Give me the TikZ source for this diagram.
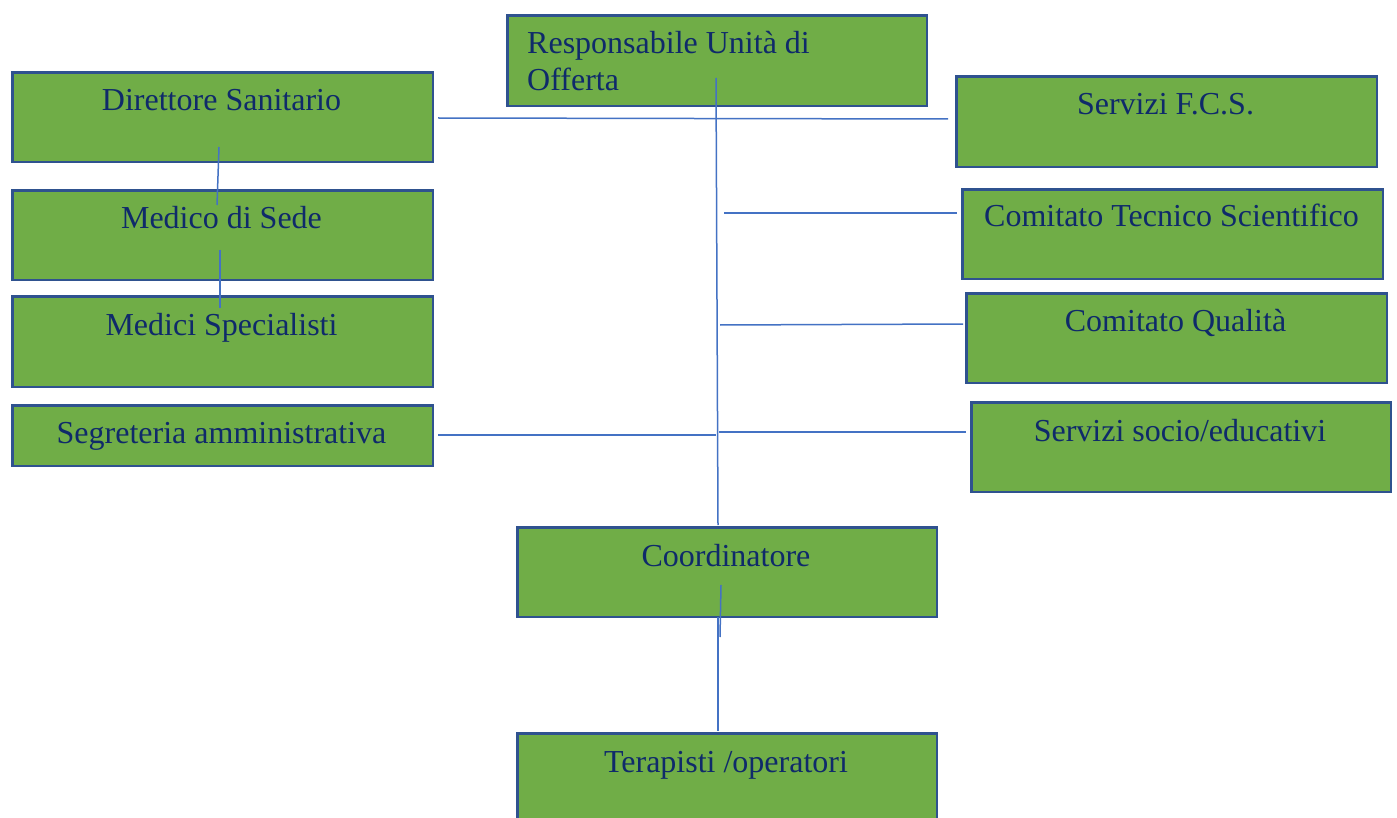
\documentclass[tikz,border=0pt]{standalone}
\usepackage{fontspec}
\setmainfont{Liberation Serif}
\definecolor{boxgreen}{HTML}{70AD47}
\definecolor{boxborder}{HTML}{2F528F}
\definecolor{txtblue}{HTML}{0F2A6A}
\definecolor{linkblue}{HTML}{4472C4}
\begin{document}
\begin{tikzpicture}[x=1pt,y=1pt,
  box/.style={draw=boxborder, line width=2.4pt, fill=boxgreen, inner sep=0pt, anchor=north west},
  lbl/.style={text=txtblue, inner sep=0pt, anchor=base, font=\fontsize{32}{37}\selectfont},
  link/.style={draw=linkblue, line width=1.5pt}]
\clip (0,0) rectangle (1397,-818);
\fill[white] (0,0) rectangle (1397,-818);
% boxes
\node[box, minimum width=419.6, minimum height=90.6] (resp) at (506.2,-14.2) {};
\node[box, minimum width=420.6, minimum height=89.6] (dir) at (11.2,-71.2) {};
\node[box, minimum width=420.6, minimum height=89.6] (med) at (11.2,-189.2) {};
\node[box, minimum width=420.6, minimum height=90.6] (spec) at (11.2,-295.2) {};
\node[box, minimum width=420.6, minimum height=60.6] (segr) at (11.2,-404.2) {};
\node[box, minimum width=420.6, minimum height=90.6] (fcs) at (955.2,-75.2) {};
\node[box, minimum width=420.6, minimum height=89.6] (cts) at (961.2,-188.2) {};
\node[box, minimum width=420.6, minimum height=89.6] (cq) at (965.2,-292.2) {};
\node[box, minimum width=419.6, minimum height=89.6] (sse) at (970.2,-401.2) {};
\node[box, minimum width=419.6, minimum height=89.6] (coord) at (516.2,-526.2) {};
\node[box, minimum width=419.6, minimum height=110] (ter) at (516.2,-732.2) {};
% texts
\node[lbl, anchor=base west] (respT1) at (527,-54) {Responsabile Unità di};
\node[lbl, anchor=base west] (respT2) at (527,-91) {Offerta};
\node[lbl] (dirT) at (221.5,-111) {Direttore Sanitario};
\node[lbl] (medT) at (221.5,-229) {Medico di Sede};
\node[lbl] (specT) at (221.5,-335) {Medici Specialisti};
\node[lbl] (segrT) at (221.5,-443) {Segreteria amministrativa};
\node[lbl] (fcsT) at (1165.5,-115) {Servizi F.C.S.};
\node[lbl] (ctsT) at (1171.5,-227) {Comitato Tecnico Scientifico};
\node[lbl] (cqT) at (1175.5,-331) {Comitato Qualità};
\node[lbl] (sseT) at (1180,-441) {Servizi socio/educativi};
\node[lbl] (coordT) at (726,-566) {Coordinatore};
\node[lbl] (terT) at (726,-772) {Terapisti /operatori};
% connector end points
\coordinate (trunkTop) at (716,-78);
\coordinate (trunkBot) at (718,-525);
\coordinate (dirR) at (438,-118);
\coordinate (fcsL) at (948,-119);
\coordinate (ctsA) at (724,-213);
\coordinate (ctsL) at (957,-213);
\coordinate (cqA) at (720,-325);
\coordinate (cqL) at (963,-324);
\coordinate (sseA) at (719,-432);
\coordinate (sseL) at (966,-432);
\coordinate (segrR) at (438,-435);
\coordinate (segrA) at (716,-435);
\coordinate (dmA) at (219,-147);
\coordinate (dmB) at (217,-205);
\coordinate (msA) at (220,-250);
\coordinate (msB) at (220,-308);
\coordinate (ctA) at (721,-585);
\coordinate (ctB) at (720,-637);
\coordinate (ctC) at (718,-617);
\coordinate (ctD) at (718,-731);
% connectors
\draw[link] (dirR) -- (fcsL);
\draw[link] (trunkTop) -- (trunkBot);
\draw[link] (ctsA) -- (ctsL);
\draw[link] (cqA) -- (cqL);
\draw[link] (sseA) -- (sseL);
\draw[link] (segrR) -- (segrA);
\draw[link] (dmA) -- (dmB);
\draw[link] (msA) -- (msB);
\draw[link] (ctA) -- (ctB);
\draw[link] (ctC) -- (ctD);
\end{tikzpicture}
\end{document}
